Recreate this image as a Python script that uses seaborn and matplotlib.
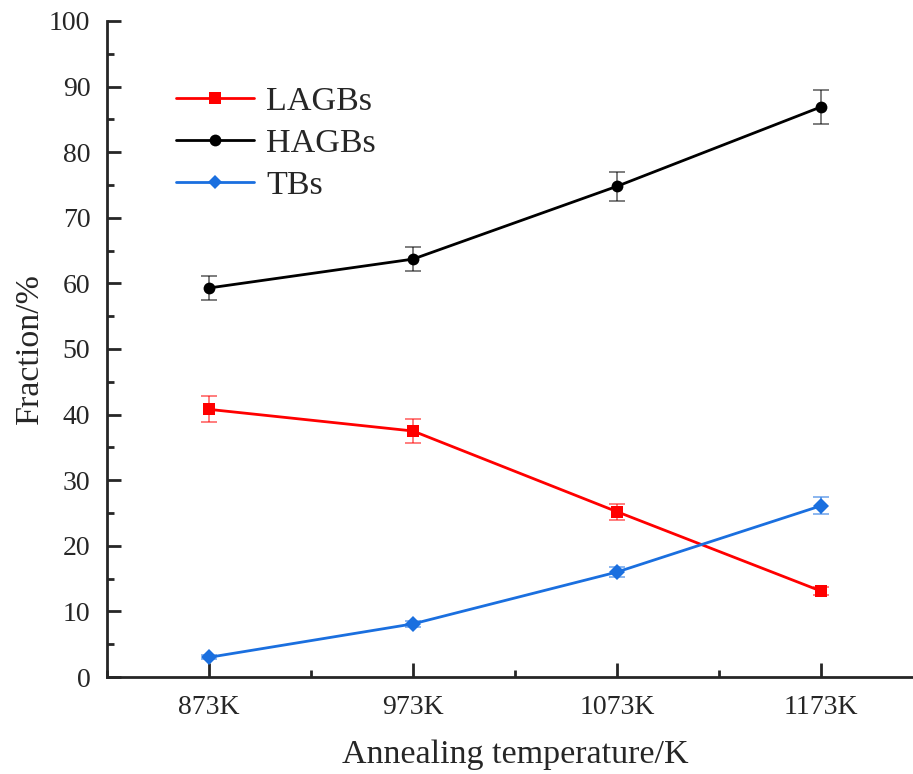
import numpy as np
import pandas as pd
import matplotlib
matplotlib.use('Agg')
import matplotlib.pyplot as plt
from matplotlib.ticker import MultipleLocator
from matplotlib.lines import Line2D
import seaborn as sns

# values
temps = ['873K', '973K', '1073K', '1173K']
lagbs = [40.8, 37.5, 25.2, 13.1]
lagbs_err = [2.0, 1.9, 1.2, 0.6]
hagbs = [59.3, 63.7, 74.8, 86.9]
hagbs_err = [1.8, 1.8, 2.2, 2.6]
tbs = [3.0, 8.1, 16.0, 26.1]
tbs_err = [0.3, 0.4, 0.8, 1.3]

names = ['LAGBs', 'HAGBs', 'TBs']
colors = ['#FF0000', '#000000', '#1A6FDF']
markers = ['s', 'o', 'D']
msizes = [8.5, 8.5, 7.5]

sns.set_style('ticks')
plt.rcParams['font.family'] = ['Liberation Serif', 'DejaVu Serif']

df = pd.DataFrame({
    'pos': list(range(len(temps))) * 3,
    'value': lagbs + hagbs + tbs,
    'err': lagbs_err + hagbs_err + tbs_err,
    'series': [n for n in names for _ in temps],
})

fig = plt.figure(figsize=(9.13, 7.74), dpi=100)
ax = fig.add_axes([0.1172, 0.1253, 0.8937, 0.8476])

sns.lineplot(data=df, x='pos', y='value', hue='series', style='series',
             palette=dict(zip(names, colors)), markers=dict(zip(names, markers)),
             dashes=False, linewidth=2, markersize=8.5, markeredgewidth=0,
             ax=ax, legend=False, zorder=3)

# error bars in lighter colour
for n, c in zip(names, colors):
    sub = df[df['series'] == n]
    ax.errorbar(sub['pos'], sub['value'], yerr=sub['err'], fmt='none',
                ecolor=c, alpha=0.55, elinewidth=1.3, capsize=6, capthick=1.3, zorder=2)

# legend handles
handles = [Line2D([0], [0], color=c, marker=m, markersize=s, lw=2, markeredgewidth=0)
           for c, m, s in zip(colors, markers, msizes)]
ax.legend(handles, names, loc='upper left', bbox_to_anchor=(0.068, 0.922), frameon=False,
          fontsize=24.5, handlelength=2.3, handletextpad=0.35, labelspacing=0.33,
          borderaxespad=0)

ax.set_xlim(-0.5, 3.5)
ax.set_ylim(0, 100)
ax.set_xticks(range(len(temps)))
ax.set_xticklabels(temps)
ax.xaxis.set_minor_locator(MultipleLocator(0.5))
ax.yaxis.set_major_locator(MultipleLocator(10))
ax.yaxis.set_minor_locator(MultipleLocator(5))
ax.tick_params(which='major', direction='in', length=10, width=2, labelsize=20)
ax.tick_params(axis='x', which='major', pad=13)
ax.tick_params(axis='y', which='major', pad=12)
ax.tick_params(which='minor', direction='in', length=5, width=2)

for s in ['top', 'right']:
    ax.spines[s].set_visible(False)
for s in ['left', 'bottom']:
    ax.spines[s].set_linewidth(2)

ax.set_xlabel('Annealing temperature/K', fontsize=24.5, labelpad=14)
ax.set_ylabel('Fraction/%', fontsize=24.5, labelpad=3)

fig.savefig('out.png', dpi=100)
